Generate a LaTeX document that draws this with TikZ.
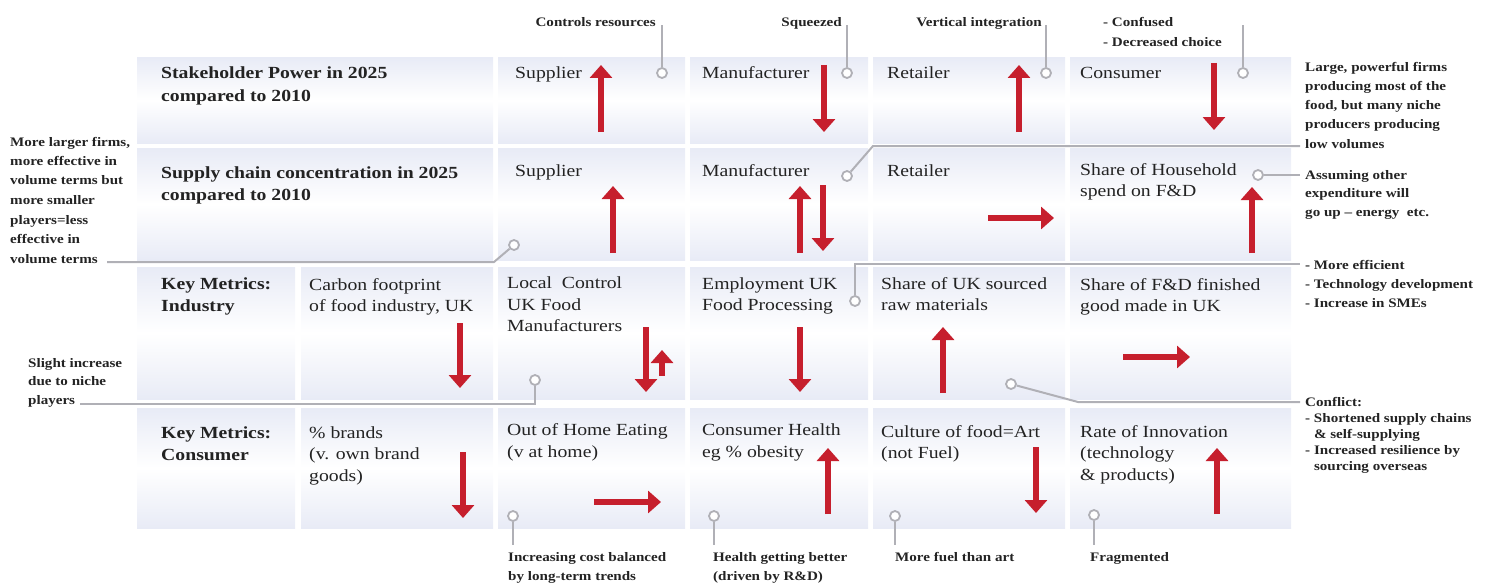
\documentclass[tikz,border=0pt]{standalone}
\usepackage{fontspec}
\setmainfont{Liberation Serif}[FakeStretch=1.16]
\usetikzlibrary{arrows.meta}

\definecolor{cellbg}{RGB}{232,235,246}
\definecolor{trend}{RGB}{198,31,45}
\definecolor{leadgrey}{RGB}{176,176,182}
\definecolor{ink}{RGB}{35,35,35}

% stacked lines, baseline on the first line
\newcommand\rows[1]{\begin{tabular}[t]{@{}l@{}}#1\end{tabular}}

\begin{document}
\begin{tikzpicture}[x=1pt,y=-1pt,
  cell/.style={rectangle,anchor=north west,inner sep=0pt,
    top color=cellbg,bottom color=cellbg,middle color=white},
  celltxt/.style={anchor=base west,inner sep=0pt,text=ink,
    font=\fontsize{17}{21.5}\selectfont},
  headtxt/.style={anchor=base west,inner sep=0pt,text=ink,
    font=\fontsize{17}{22}\selectfont\bfseries},
  note/.style={inner sep=0pt,text=ink,font=\fontsize{13}{19.3}\selectfont\bfseries},
  dot/.style={circle,draw=leadgrey,fill=white,line width=1.8pt,
    minimum size=10pt,inner sep=0pt},
  leadline/.style={draw=leadgrey,line width=2pt},
  trendarrow/.style={draw=trend,line width=6.5pt,
    -{Triangle[width=22pt,length=13pt]}}]

\useasboundingbox (0,0) rectangle (1497,586);

% ---- grid of shaded cells ----
\foreach \r/\y/\h in {1/57/86,2/148/112}
  \node[cell,minimum width=356,minimum height=\h] (c\r-1) at (137,\y) {};
\foreach \r/\y/\h in {3/267/132,4/408/120}
  \foreach \c/\x/\w in {1/137/158,2/301/192}
    \node[cell,minimum width=\w,minimum height=\h] (c\r-\c) at (\x,\y) {};
\foreach \r/\y/\h in {1/57/86,2/148/112,3/267/132,4/408/120}
  \foreach \c/\x/\w in {3/498/187,4/690/178,5/873/192,6/1070/221}
    \node[cell,minimum width=\w,minimum height=\h] (c\r-\c) at (\x,\y) {};

% ---- cell texts ----
\node[headtxt] (t1-1) at (161,79) {\rows{Stakeholder Power in 2025\\compared to 2010}};
\node[celltxt] (t1-3) at (515,78) {Supplier};
\node[celltxt] (t1-4) at (702,78) {Manufacturer};
\node[celltxt] (t1-5) at (887,78) {Retailer};
\node[celltxt] (t1-6) at (1080,78) {Consumer};

\node[headtxt] (t2-1) at (161,178) {\rows{Supply chain concentration in 2025\\compared to 2010}};
\node[celltxt] (t2-3) at (515,176) {Supplier};
\node[celltxt] (t2-4) at (702,176) {Manufacturer};
\node[celltxt] (t2-5) at (887,176) {Retailer};
\node[celltxt] (t2-6) at (1080,175) {\rows{Share of Household\\spend on F\&D}};

\node[headtxt] (t3-1) at (161,289) {\rows{Key Metrics:\\Industry}};
\node[celltxt] (t3-2) at (309,290) {\rows{Carbon footprint\\of food industry, UK}};
\node[celltxt] (t3-3) at (507,288.5) {\rows{Local\ \ Control\\UK Food\\Manufacturers}};
\node[celltxt] (t3-4) at (702,289) {\rows{Employment UK\\Food Processing}};
\node[celltxt] (t3-5) at (881,289) {\rows{Share of UK sourced\\raw materials}};
\node[celltxt] (t3-6) at (1080,290) {\rows{Share of F\&D finished\\good made in UK}};

\node[headtxt] (t4-1) at (161,438) {\rows{Key Metrics:\\Consumer}};
\node[celltxt] (t4-2) at (309,438) {\rows{\% brands\\(v. own brand\\goods)}};
\node[celltxt] (t4-3) at (507,435.5) {\rows{Out of Home Eating\\(v at home)}};
\node[celltxt] (t4-4) at (702,435.5) {\rows{Consumer Health\\eg \% obesity}};
\node[celltxt] (t4-5) at (881,437) {\rows{Culture of food=Art\\(not Fuel)}};
\node[celltxt] (t4-6) at (1080,437) {\rows{Rate of Innovation\\(technology\\\& products)}};

% ---- trend arrows ----
\draw[trendarrow] (601,132) -- (601,65);
\draw[trendarrow] (824,65) -- (824,132);
\draw[trendarrow] (1019,132) -- (1019,65);
\draw[trendarrow] (1214,63) -- (1214,130);

\draw[trendarrow] (613,253) -- (613,186);
\draw[trendarrow] (800,253) -- (800,186);
\draw[trendarrow] (823,185) -- (823,251);
\draw[trendarrow] (988,218) -- (1054,218);
\draw[trendarrow] (1252,253) -- (1252,187);

\draw[trendarrow] (460,323) -- (460,388);
\draw[trendarrow] (646,327) -- (646,392);
\draw[trendarrow] (662,376) -- (662,350);
\draw[trendarrow] (800,327) -- (800,392);
\draw[trendarrow] (943,393) -- (943,327);
\draw[trendarrow] (1123,357) -- (1190,357);

\draw[trendarrow] (463,452) -- (463,518);
\draw[trendarrow] (594,502) -- (661,502);
\draw[trendarrow] (828,514) -- (828,448);
\draw[trendarrow] (1036,447) -- (1036,513);
\draw[trendarrow] (1217,514) -- (1217,448);

% ---- annotations ----
\node[note,anchor=base east] (n1) at (656,27) {Controls resources};
\node[note,anchor=base east] (n2) at (842,27) {Squeezed};
\node[note,anchor=base east] (n3) at (1042,27) {Vertical integration};
\node[note,anchor=base west] (n4) at (1103,27) {\rows{- Confused\\- Decreased choice}};
\node[note,anchor=base west] (n5) at (1305,71)
  {\rows{Large, powerful firms\\producing most of the\\food, but many niche\\producers producing\\low volumes}};
\node[note,anchor=base west,font=\fontsize{13}{18.7}\selectfont\bfseries] (n6) at (1305,179)
  {\rows{Assuming other\\expenditure will\\go up -- energy\ \ etc.}};
\node[note,anchor=base west,font=\fontsize{13}{19.5}\selectfont\bfseries] (n7) at (10,146)
  {\rows{More larger firms,\\more effective in\\volume terms but\\more smaller\\players=less\\effective in\\volume terms}};
\node[note,anchor=base west,font=\fontsize{13}{19}\selectfont\bfseries] (n8) at (1305,269)
  {\rows{- More efficient\\- Technology development\\- Increase in SMEs}};
\node[note,anchor=base west,font=\fontsize{13}{18.5}\selectfont\bfseries] (n9) at (28,367)
  {\rows{Slight increase\\due to niche\\players}};
\node[note,anchor=base west,font=\fontsize{13}{16}\selectfont\bfseries] (n10) at (1305,406)
  {\rows{Conflict:\\- Shortened supply chains\\\phantom{- }\& self-supplying\\- Increased resilience by\\\phantom{- }sourcing overseas}};
\node[note,anchor=base west,font=\fontsize{13}{19}\selectfont\bfseries] (n11) at (508,561)
  {\rows{Increasing cost balanced\\by long-term trends}};
\node[note,anchor=base west,font=\fontsize{13}{19}\selectfont\bfseries] (n12) at (713,561)
  {\rows{Health getting better\\(driven by R\&D)}};
\node[note,anchor=base west] (n13) at (895,561) {More fuel than art};
\node[note,anchor=base west] (n14) at (1090,561) {Fragmented};

% marker dots
\node[dot] (d1) at (662,73) {};
\node[dot] (d2) at (847,73) {};
\node[dot] (d3) at (1046,73) {};
\node[dot] (d4) at (1243,73) {};
\node[dot] (d5) at (847,176) {};
\node[dot] (d6) at (1258,175) {};
\node[dot] (d7) at (514,245) {};
\node[dot] (d8) at (855,301) {};
\node[dot] (d9) at (535,380) {};
\node[dot] (d10) at (1011,384) {};
\node[dot] (d11) at (513,516) {};
\node[dot] (d12) at (714,516) {};
\node[dot] (d13) at (895,516) {};
\node[dot] (d14) at (1094,515) {};

% leader end points
\coordinate (e1) at (662,25);
\coordinate (e2) at (847,25);
\coordinate (e3) at (1046,25);
\coordinate (e4) at (1243,25);
\coordinate (b5) at (873,146);
\coordinate (e5) at (1300,146);
\coordinate (e6) at (1300,175);
\coordinate (b7) at (494,262);
\coordinate (e7) at (107,262);
\coordinate (b8) at (855,264);
\coordinate (e8) at (1300,264);
\coordinate (b9) at (535,404);
\coordinate (e9) at (80,404);
\coordinate (b10) at (1078,402);
\coordinate (e10) at (1300,402);
\coordinate (e11) at (513,545);
\coordinate (e12) at (714,545);
\coordinate (e13) at (895,545);
\coordinate (e14) at (1094,545);

\draw[leadline] (d1) -- (e1);
\draw[leadline] (d2) -- (e2);
\draw[leadline] (d3) -- (e3);
\draw[leadline] (d4) -- (e4);
\draw[leadline] (d5) -- (b5) -- (e5);
\draw[leadline] (d6) -- (e6);
\draw[leadline] (d7) -- (b7) -- (e7);
\draw[leadline] (d8) -- (b8) -- (e8);
\draw[leadline] (d9) -- (b9) -- (e9);
\draw[leadline] (d10) -- (b10) -- (e10);
\draw[leadline] (d11) -- (e11);
\draw[leadline] (d12) -- (e12);
\draw[leadline] (d13) -- (e13);
\draw[leadline] (d14) -- (e14);

\end{tikzpicture}
\end{document}
